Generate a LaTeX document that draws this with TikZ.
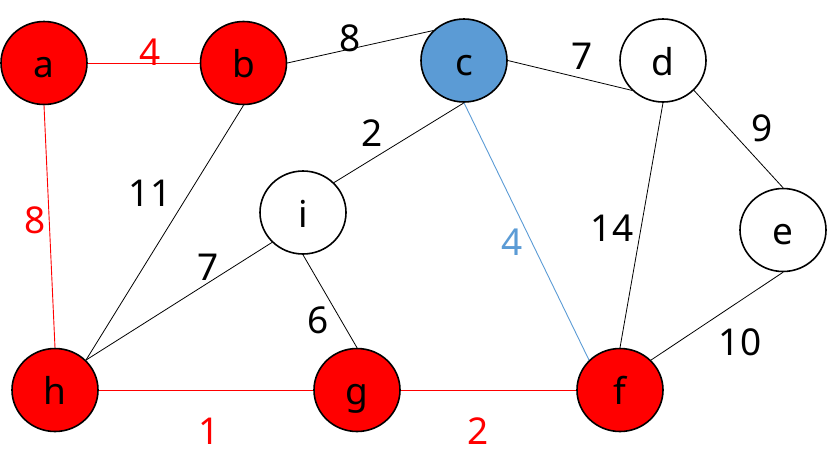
\documentclass[tikz,border=0pt]{standalone}
\usepackage{fontspec}
\setmainfont{Noto Sans}
\usetikzlibrary{shapes.geometric}
\definecolor{myred}{HTML}{FF0000}
\definecolor{myblue}{HTML}{5B9BD5}
\begin{document}
\begin{tikzpicture}[x=1pt,y=-1pt,
  vert/.style={ellipse,draw=black,line width=1.6pt,minimum width=86pt,minimum height=83pt,inner sep=0pt,
    font=\fontsize{37}{40}\selectfont,text height=29pt,text depth=0pt},
  rv/.style={vert,fill=myred},
  wv/.style={vert,fill=white},
  bv/.style={vert,fill=myblue},
  edge/.style={line width=0.8pt,black},
  redge/.style={line width=0.9pt,myred},
  bedge/.style={line width=0.9pt,myblue},
  wt/.style={inner sep=0pt,font=\fontsize{37}{40}\selectfont}]
\useasboundingbox (0,0) rectangle (828,475);
% edges first (drawn beneath nodes)
\node[rv] (a) at (44,63) {a};
\node[rv] (b) at (243.5,63) {b};
\node[bv] (c) at (464,60.5) {c};
\node[wv] (d) at (663,60.5) {d};
\node[wv] (i) at (303,212.5) {i};
\node[wv] (e) at (783,230) {e};
\node[rv] (h) at (55,390) {h};
\node[rv] (g) at (357,390) {g};
\node[rv] (f) at (620,390) {f};
\begin{scope}[on background layer/.style={}]
\draw[redge] (a.east) -- (b.west);
\draw[redge] (a.south) -- (h.north);
\draw[edge] (b.east) -- (c.north west);
\draw[edge] (b.south) -- (h.north east);
\draw[edge] (c.east) -- (d.south west);
\draw[edge] (c.south) -- (i.north east);
\draw[bedge] (c.south) -- (f.north west);
\draw[edge] (d.south east) -- (e.north);
\draw[edge] (d.south) -- (f.north);
\draw[edge] (e.south) -- (f.north east);
\draw[edge] (i.south west) -- (h.north east);
\draw[edge] (i.south) -- (g.north);
\draw[redge] (h.east) -- (g.west);
\draw[redge] (g.east) -- (f.west);
\end{scope}
% weights
\node[wt,text=myred] (wab) at (150,52) {4};
\node[wt] (wbc) at (350,38) {8};
\node[wt] (wcd) at (582,56) {7};
\node[wt] (wde) at (762,128) {9};
\node[wt] (wci) at (372,133) {2};
\node[wt] (wbh) at (150,193) {11};
\node[wt,text=myred] (wah) at (35,220) {8};
\node[wt] (wih) at (208,267) {7};
\node[wt] (wig) at (318,320) {6};
\node[wt,text=myblue] (wcf) at (512,242) {4};
\node[wt] (wdf) at (612,228) {14};
\node[wt] (wef) at (740,342) {10};
\node[wt,text=myred] (whg) at (209,431) {1};
\node[wt,text=myred] (wgf) at (478,431) {2};
\end{tikzpicture}
\end{document}
